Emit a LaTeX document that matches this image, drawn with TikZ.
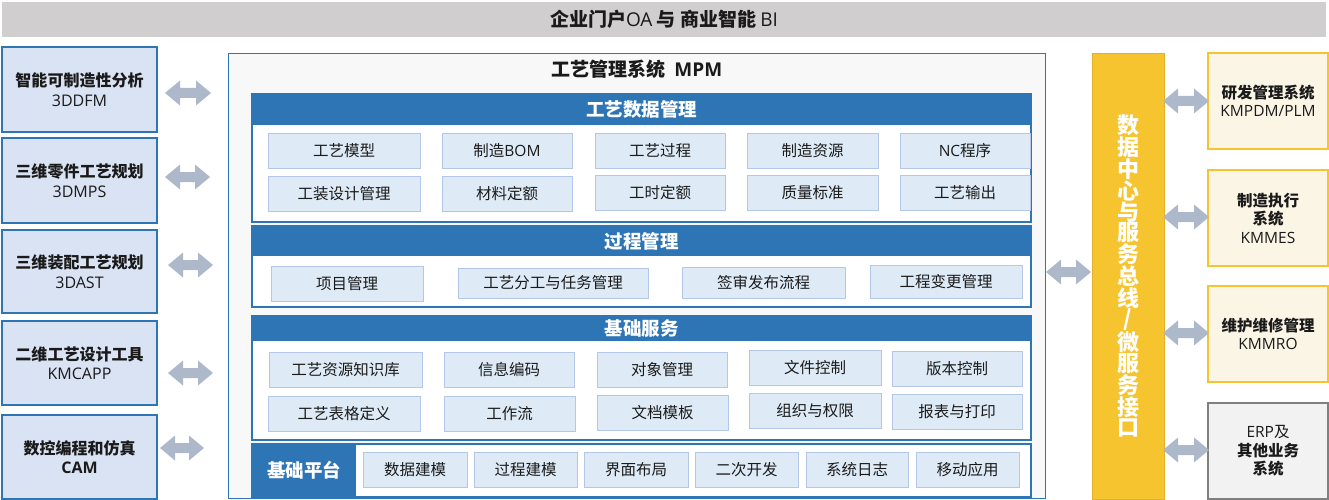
\documentclass[tikz,border=0pt]{standalone}
\usepackage{fontspec}
\setmainfont{Noto Sans CJK SC}
\newfontfamily\lat{Open Sans}
\usetikzlibrary{calc}
\definecolor{bannerc}{HTML}{D0CECE}
\definecolor{blueb}{HTML}{2E75B6}
\definecolor{leftfill}{HTML}{DAE3F3}
\definecolor{itemfill}{HTML}{DEEBF7}
\definecolor{itemline}{HTML}{B4C7E7}
\definecolor{arrowc}{HTML}{ADB9CA}
\definecolor{yellowc}{HTML}{F5C42F}
\definecolor{ydark}{HTML}{E2B12A}
\definecolor{creamc}{HTML}{FBF5E6}
\definecolor{mpmfill}{HTML}{F8F8F8}
\definecolor{greyfill}{HTML}{F2F2F2}
\definecolor{greyline}{HTML}{7F7F7F}
\definecolor{txt}{HTML}{1A1A1A}
\newcommand\boxat[7]{\node[#1, minimum width={#5-#3}, minimum height={#6-#4}, anchor=north west] (#2) at (#3,#4) {#7};}
\newcommand\la[1]{{\lat #1}}
\tikzset{
 base/.style={inner sep=0pt, outer sep=0pt, align=center, text=txt},
 banner/.style={base, fill=bannerc, font=\fontsize{19}{22}\selectfont},
 leftbox/.style={base, draw=blueb, line width=1.3pt, fill=leftfill, font=\fontsize{16}{19.5}\selectfont},
 mpmbox/.style={base, draw=blueb, line width=0.9pt, fill=mpmfill},
 secbody/.style={base, draw=blueb, line width=1.3pt, fill=white},
 sechead/.style={base, fill=blueb, text=white, font=\fontsize{18.5}{22}\selectfont\bfseries},
 item/.style={base, draw=itemline, line width=1pt, fill=itemfill, font=\fontsize{15.5}{18}\selectfont},
 ybarbox/.style={base, draw=ydark, line width=0.8pt, fill=yellowc, text=white, font=\fontsize{22}{20}\selectfont\bfseries},
 rightbox/.style={base, draw=yellowc, line width=1.3pt, fill=creamc, font=\fontsize{15.5}{18.5}\selectfont},
 erpbox/.style={rightbox, draw=greyline, fill=greyfill},
 titletext/.style={base, font=\fontsize{19}{22}\selectfont\bfseries},
 dblarrow/.style={fill=arrowc, to path={let \p1=(\tikztostart), \p2=(\tikztotarget) in
   -- (\x1+15pt,\y1+12.5pt) -- (\x1+15pt,\y1+5pt) -- (\x2-15pt,\y1+5pt) -- (\x2-15pt,\y1+12.5pt)
   -- (\x2,\y1) -- (\x2-15pt,\y1-12.5pt) -- (\x2-15pt,\y1-5pt) -- (\x1+15pt,\y1-5pt)
   -- (\x1+15pt,\y1-12.5pt) -- cycle}}
}
\begin{document}
\begin{tikzpicture}[x=1pt,y=-1pt]
\useasboundingbox (0,0) rectangle (1329,500);
% banner
\boxat{banner}{top}{2}{2}{1326}{37}{\textbf{企业门户}\la{OA} \textbf{与 商业智能} \la{BI}}
% left column
\boxat{leftbox}{L1}{2}{47}{157}{132}{\textbf{智能可制造性分析}\\\la{3DDFM}}
\boxat{leftbox}{L2}{2}{138}{157}{223}{\textbf{三维零件工艺规划}\\\la{3DMPS}}
\boxat{leftbox}{L3}{2}{230}{157}{313}{\textbf{三维装配工艺规划}\\\la{3DAST}}
\boxat{leftbox}{L4}{2}{321}{157}{405}{\textbf{二维工艺设计工具}\\\la{KMCAPP}}
\boxat{leftbox}{L5}{2}{415}{157}{499}{\textbf{数控编程和仿真}\\\textbf{\la{CAM}}}
% MPM frame
\boxat{mpmbox}{mpm}{228}{53}{1045}{498}{}
\node[titletext] (mpmt) at (637,69) {工艺管理系统\ \ \la{MPM}};
% section 1
\boxat{secbody}{s1}{252}{94}{1031}{222}{}
\boxat{sechead}{s1h}{252}{94}{1031}{125}{工艺数据管理}
\boxat{item}{a11}{268}{133}{420}{168}{工艺模型}
\boxat{item}{a12}{442}{133}{572}{168}{制造\la{BOM}}
\boxat{item}{a13}{595}{133}{725}{168}{工艺过程}
\boxat{item}{a14}{747}{133}{878}{168}{制造资源}
\boxat{item}{a15}{900}{133}{1030}{168}{\la{NC}程序}
\boxat{item}{a21}{268}{176}{420}{211}{工装设计管理}
\boxat{item}{a22}{442}{176}{572}{211}{材料定额}
\boxat{item}{a23}{595}{175}{725}{210}{工时定额}
\boxat{item}{a24}{747}{175}{878}{210}{质量标准}
\boxat{item}{a25}{900}{175}{1030}{210}{工艺输出}
% section 2
\boxat{secbody}{s2}{252}{226}{1031}{307}{}
\boxat{sechead}{s2h}{252}{226}{1031}{256}{过程管理}
\boxat{item}{b1}{271}{266}{423}{301}{项目管理}
\boxat{item}{b2}{458}{268}{648}{298}{工艺分工与任务管理}
\boxat{item}{b3}{682}{267}{845}{298}{签审发布流程}
\boxat{item}{b4}{870}{265}{1022}{298}{工程变更管理}
% section 3
\boxat{secbody}{s3}{252}{316}{1031}{440}{}
\boxat{sechead}{s3h}{252}{316}{1031}{341}{基础服务}
\boxat{item}{c11}{269}{352}{422}{387}{工艺资源知识库}
\boxat{item}{c12}{444}{352}{574}{387}{信息编码}
\boxat{item}{c13}{597}{352}{727}{387}{对象管理}
\boxat{item}{c14}{749}{350}{881}{385}{文件控制}
\boxat{item}{c15}{892}{351}{1022}{386}{版本控制}
\boxat{item}{c21}{268}{396}{420}{431}{工艺表格定义}
\boxat{item}{c22}{444}{396}{575}{431}{工作流}
\boxat{item}{c23}{597}{395}{728}{430}{文档模板}
\boxat{item}{c24}{749}{393}{881}{428}{组织与权限}
\boxat{item}{c25}{892}{394}{1022}{429}{报表与打印}
% section 4
\boxat{secbody}{s4}{252}{444}{1031}{497}{}
\boxat{sechead}{s4h}{252}{444}{356}{497}{基础平台}
\boxat{item}{d1}{363}{452}{467}{487}{数据建模}
\boxat{item}{d2}{474}{452}{577}{487}{过程建模}
\boxat{item}{d3}{584}{452}{688}{487}{界面布局}
\boxat{item}{d4}{695}{452}{798}{487}{二次开发}
\boxat{item}{d5}{806}{452}{908}{487}{系统日志}
\boxat{item}{d6}{916}{452}{1019}{487}{移动应用}
% yellow bus
\boxat{ybarbox}{ybar}{1092}{53}{1164}{499}{数\\据\\中\\心\\与\\服\\务\\总\\线\\/\\微\\服\\务\\接\\口}
% right column
\boxat{rightbox}{R1}{1208}{53}{1328}{149}{\textbf{研发管理系统}\\\la{KMPDM/PLM}}
\boxat{rightbox}{R2}{1208}{170}{1328}{266}{\textbf{制造执行}\\\textbf{系统}\\\la{KMMES}}
\boxat{rightbox}{R3}{1208}{286}{1328}{382}{\textbf{维护维修管理}\\\la{KMMRO}}
\boxat{erpbox}{R4}{1208}{403}{1328}{499}{\la{ERP}及\\\textbf{其他业务}\\\textbf{系统}}
% block arrows left
\path[dblarrow] ($(L1.east)+(8,3.5)$) to ($(mpm.west |- L1.east)+(-17,3.5)$);
\path[dblarrow] ($(L2.east)+(8,-3.5)$) to ($(mpm.west |- L2.east)+(-18,-3.5)$);
\path[dblarrow] ($(L3.east)+(11,-6.5)$) to ($(mpm.west |- L3.east)+(-15,-6.5)$);
\path[dblarrow] ($(L4.east)+(11,10)$) to ($(mpm.west |- L4.east)+(-15,10)$);
\path[dblarrow] ($(L5.east)+(3,-9)$) to ($(mpm.west |- L5.east)+(-24,-9)$);
% middle
\path[dblarrow] ($(mpm.east)+(1,-3.5)$) to ($(ybar.west |- mpm.east)+(-1,-3.5)$);
% right
\path[dblarrow] ($(ybar.east |- R1.west)+(-1,0)$) to ($(R1.west)+(1,0)$);
\path[dblarrow] ($(ybar.east |- R2.west)+(-1,-1)$) to ($(R2.west)+(1,-1)$);
\path[dblarrow] ($(ybar.east |- R3.west)+(-1,-1)$) to ($(R3.west)+(1,-1)$);
\path[dblarrow] ($(ybar.east |- R4.west)+(-1,-1)$) to ($(R4.west)+(1,-1)$);
\end{tikzpicture}
\end{document}
